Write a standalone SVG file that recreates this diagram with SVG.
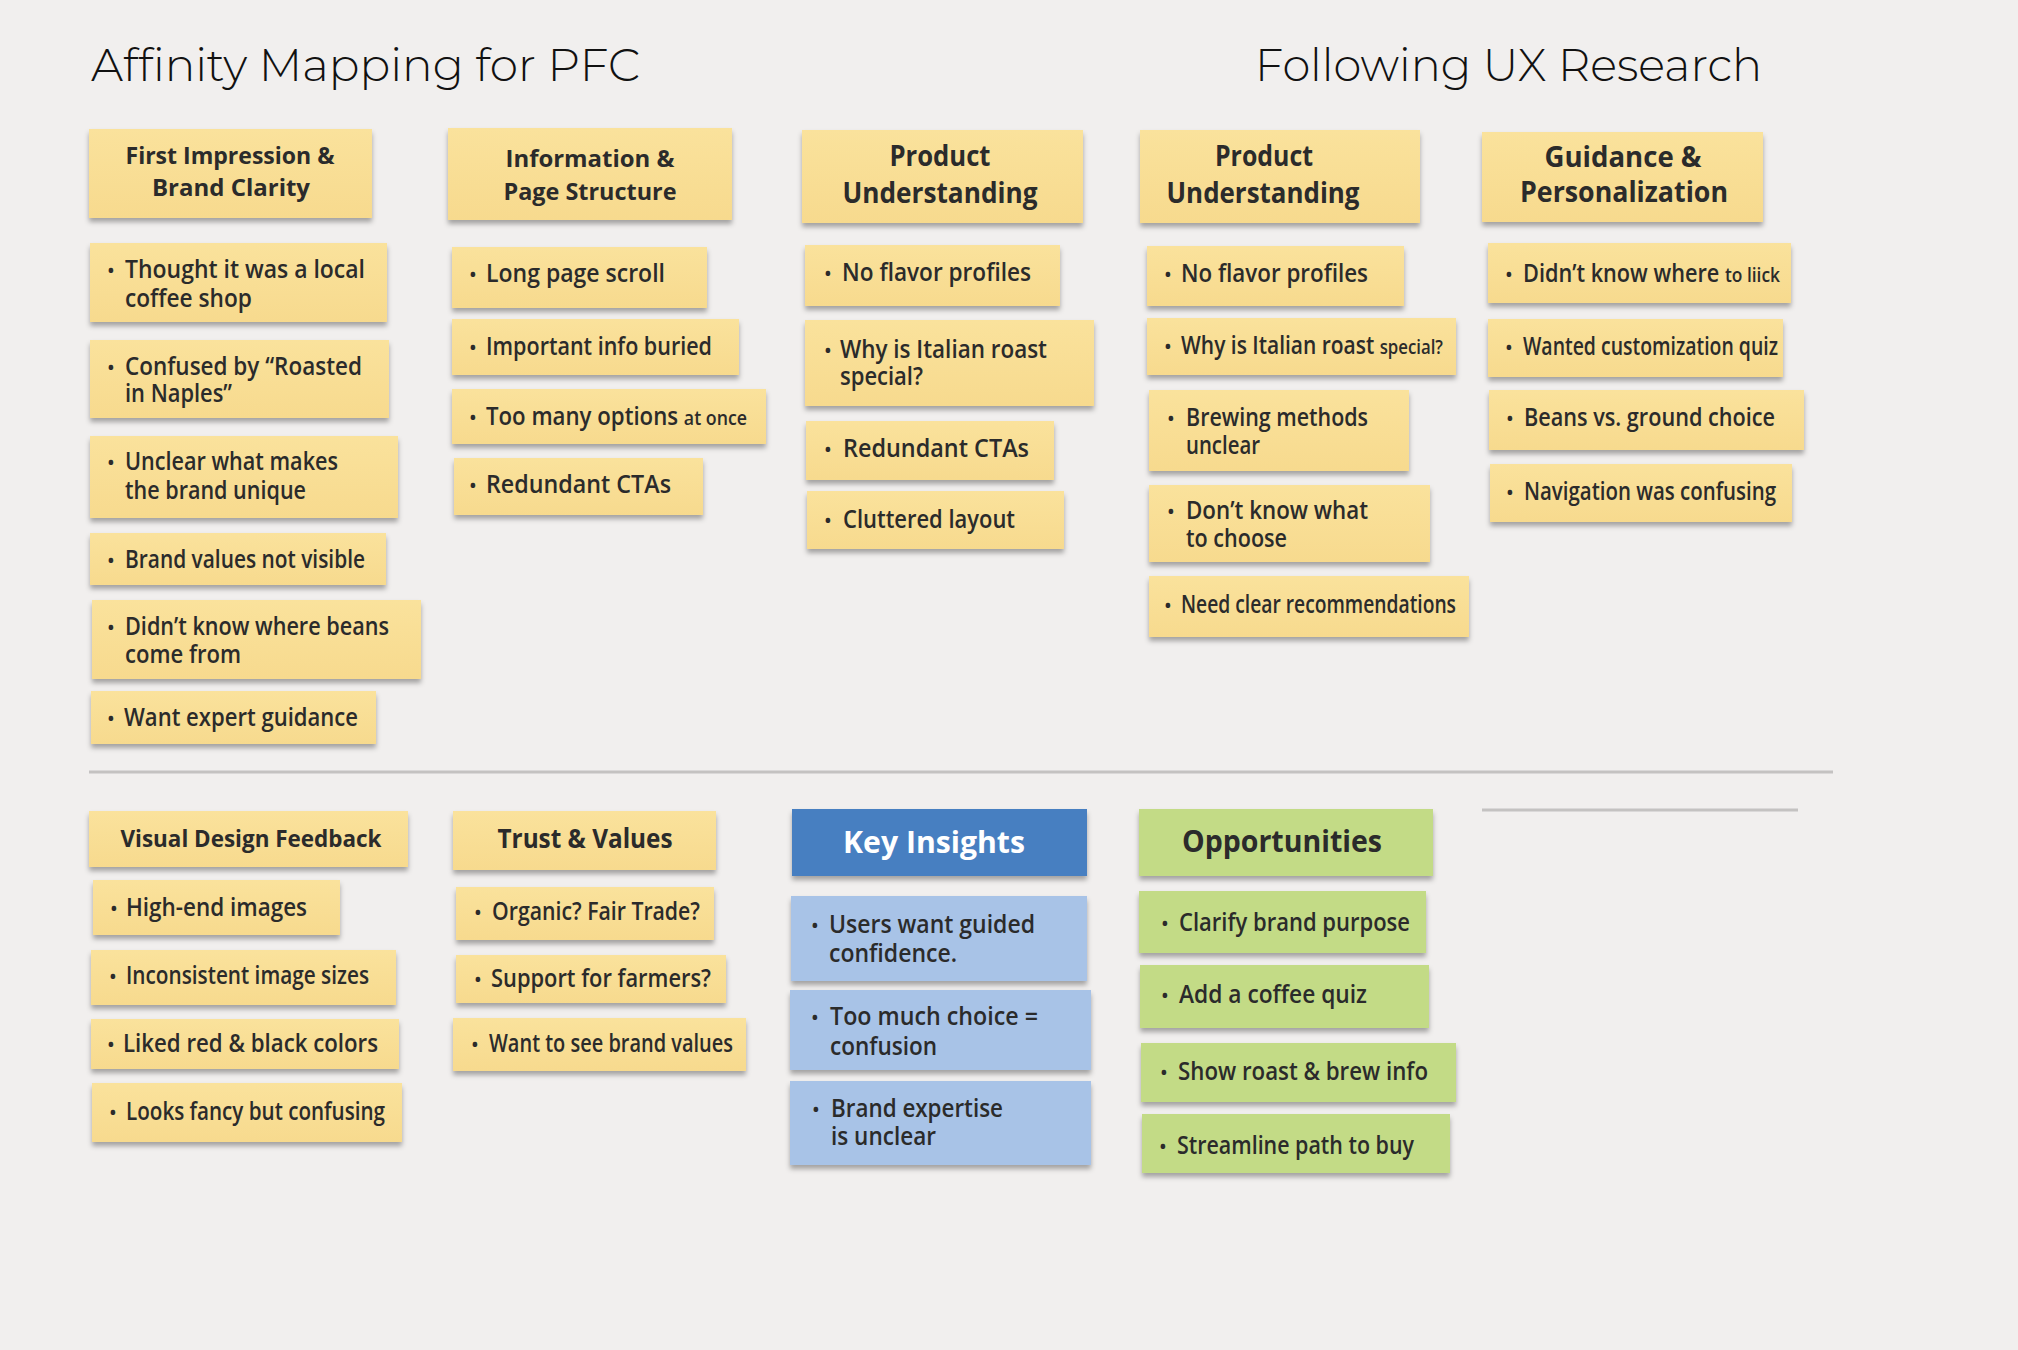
<svg xmlns="http://www.w3.org/2000/svg" width="2018" height="1350" viewBox="0 0 2018 1350">
<defs>
<filter id="sh" x="-5%" y="-20%" width="110%" height="160%"><feDropShadow dx="0" dy="4" stdDeviation="2.5" flood-color="#000" flood-opacity="0.32"/></filter>
<linearGradient id="yg" x1="0" y1="0" x2="0" y2="1"><stop offset="0" stop-color="#fae29c"/><stop offset="1" stop-color="#f7da8e"/></linearGradient>
</defs>
<style>
.y{fill:url(#yg)}
.b{fill:#a8c3e7}
.bh{fill:#477fc1}
.g{fill:#c3db86}
.n{filter:url(#sh)}
text{font-family:"Open Sans","Liberation Sans",sans-serif;fill:#2b2b2b}
.t{font-size:25px;font-weight:600}
.s{font-size:20px;font-weight:600}
.h{font-size:24px;font-weight:700;text-anchor:middle}
.hl{font-size:28px;font-weight:700;text-anchor:middle}
.hx{font-size:31px;font-weight:700;text-anchor:middle}
.bu{font-size:22px;text-anchor:middle}
.title{font-family:Montserrat,Inter,"Open Sans",sans-serif;font-size:46px;font-weight:300;fill:#111}
.div{stroke:#c4c2c1;stroke-width:3;fill:none}
</style>
<rect width="2018" height="1350" fill="#f1efee"/>

<g id="titles">
<text class="title" x="91" y="81" textLength="549" lengthAdjust="spacingAndGlyphs">Affinity Mapping for PFC</text>
<text class="title" x="1255" y="81" textLength="507" lengthAdjust="spacingAndGlyphs">Following UX Research</text>
</g>

<g id="connectors">
<line class="div" x1="89" y1="772" x2="1833" y2="772"/>
<line class="div" x1="1482" y1="810" x2="1798" y2="810"/>
</g>

<!-- Column 1 top -->
<g id="h-first-impression">
<rect class="y n" x="89" y="129" width="283" height="89"/>
<text class="h"><tspan x="230" y="164" textLength="209" lengthAdjust="spacingAndGlyphs">First Impression &amp;</tspan><tspan x="231" y="196" textLength="158" lengthAdjust="spacingAndGlyphs">Brand Clarity</tspan></text>
</g>
<g id="n-local-coffee">
<rect class="y n" x="90" y="243" width="297" height="79"/>
<text class="bu" x="111" y="278">•</text>
<text class="t"><tspan x="125" y="278" textLength="240" lengthAdjust="spacingAndGlyphs">Thought it was a local</tspan><tspan x="125" y="307" textLength="127" lengthAdjust="spacingAndGlyphs">coffee shop</tspan></text>
</g>
<g id="n-roasted-naples">
<rect class="y n" x="90" y="340" width="299" height="78"/>
<text class="bu" x="111" y="375">•</text>
<text class="t"><tspan x="125" y="375" textLength="237" lengthAdjust="spacingAndGlyphs">Confused by “Roasted</tspan><tspan x="125" y="402" textLength="107" lengthAdjust="spacingAndGlyphs">in Naples”</tspan></text>
</g>
<g id="n-unclear-unique">
<rect class="y n" x="90" y="436" width="308" height="82"/>
<text class="bu" x="111" y="470">•</text>
<text class="t"><tspan x="125" y="470" textLength="213" lengthAdjust="spacingAndGlyphs">Unclear what makes</tspan><tspan x="125" y="499" textLength="181" lengthAdjust="spacingAndGlyphs">the brand unique</tspan></text>
</g>
<g id="n-brand-values">
<rect class="y n" x="90" y="533" width="296" height="52"/>
<text class="bu" x="111" y="568">•</text>
<text class="t" x="125" y="568" textLength="240" lengthAdjust="spacingAndGlyphs">Brand values not visible</text>
</g>
<g id="n-beans-from">
<rect class="y n" x="92" y="600" width="329" height="79"/>
<text class="bu" x="111" y="635">•</text>
<text class="t"><tspan x="125" y="635" textLength="264" lengthAdjust="spacingAndGlyphs">Didn’t know where beans</tspan><tspan x="125" y="663" textLength="116" lengthAdjust="spacingAndGlyphs">come from</tspan></text>
</g>
<g id="n-expert-guidance">
<rect class="y n" x="91" y="691" width="285" height="53"/>
<text class="bu" x="111" y="726">•</text>
<text class="t" x="124" y="726" textLength="234" lengthAdjust="spacingAndGlyphs">Want expert guidance</text>
</g>

<!-- Column 2 top -->
<g id="h-information">
<rect class="y n" x="448" y="128" width="284" height="92"/>
<text class="h"><tspan x="590" y="167" textLength="169" lengthAdjust="spacingAndGlyphs">Information &amp;</tspan><tspan x="590" y="200" textLength="173" lengthAdjust="spacingAndGlyphs">Page Structure</tspan></text>
</g>
<g id="n-long-scroll">
<rect class="y n" x="452" y="247" width="255" height="61"/>
<text class="bu" x="473" y="282">•</text>
<text class="t" x="486" y="282" textLength="179" lengthAdjust="spacingAndGlyphs">Long page scroll</text>
</g>
<g id="n-info-buried">
<rect class="y n" x="452" y="319" width="287" height="56"/>
<text class="bu" x="473" y="355">•</text>
<text class="t" x="486" y="355" textLength="226" lengthAdjust="spacingAndGlyphs">Important info buried</text>
</g>
<g id="n-too-many">
<rect class="y n" x="452" y="389" width="314" height="55"/>
<text class="bu" x="473" y="425">•</text>
<text class="t" x="486" y="425" textLength="261" lengthAdjust="spacingAndGlyphs">Too many options <tspan class="s">at once</tspan></text>
</g>
<g id="n-redundant-1">
<rect class="y n" x="454" y="458" width="249" height="57"/>
<text class="bu" x="473" y="493">•</text>
<text class="t" x="486" y="493" textLength="185" lengthAdjust="spacingAndGlyphs">Redundant CTAs</text>
</g>

<!-- Column 3 top -->
<g id="h-product-1">
<rect class="y n" x="802" y="130" width="281" height="93"/>
<text class="hl"><tspan x="940" y="166" textLength="101" lengthAdjust="spacingAndGlyphs">Product</tspan><tspan x="940" y="203" textLength="195" lengthAdjust="spacingAndGlyphs">Understanding</tspan></text>
</g>
<g id="n-flavor-1">
<rect class="y n" x="805" y="245" width="255" height="61"/>
<text class="bu" x="828" y="281">•</text>
<text class="t" x="842" y="281" textLength="189" lengthAdjust="spacingAndGlyphs">No flavor profiles</text>
</g>
<g id="n-italian-1">
<rect class="y n" x="805" y="320" width="289" height="86"/>
<text class="bu" x="828" y="358">•</text>
<text class="t"><tspan x="840" y="358" textLength="207" lengthAdjust="spacingAndGlyphs">Why is Italian roast</tspan><tspan x="840" y="385" textLength="83" lengthAdjust="spacingAndGlyphs">special?</tspan></text>
</g>
<g id="n-redundant-2">
<rect class="y n" x="806" y="421" width="248" height="59"/>
<text class="bu" x="828" y="457">•</text>
<text class="t" x="843" y="457" textLength="186" lengthAdjust="spacingAndGlyphs">Redundant CTAs</text>
</g>
<g id="n-cluttered">
<rect class="y n" x="807" y="491" width="257" height="58"/>
<text class="bu" x="828" y="528">•</text>
<text class="t" x="843" y="528" textLength="172" lengthAdjust="spacingAndGlyphs">Cluttered layout</text>
</g>

<!-- Column 4 top -->
<g id="h-product-2">
<rect class="y n" x="1140" y="130" width="280" height="93"/>
<text class="hl"><tspan x="1264" y="166" textLength="98" lengthAdjust="spacingAndGlyphs">Product</tspan><tspan x="1263" y="203" textLength="193" lengthAdjust="spacingAndGlyphs">Understanding</tspan></text>
</g>
<g id="n-flavor-2">
<rect class="y n" x="1147" y="246" width="257" height="60"/>
<text class="bu" x="1168" y="282">•</text>
<text class="t" x="1181" y="282" textLength="187" lengthAdjust="spacingAndGlyphs">No flavor profiles</text>
</g>
<g id="n-italian-2">
<rect class="y n" x="1147" y="318" width="309" height="57"/>
<text class="bu" x="1168" y="354">•</text>
<text class="t" x="1181" y="354" textLength="262" lengthAdjust="spacingAndGlyphs">Why is Italian roast <tspan class="s">special?</tspan></text>
</g>
<g id="n-brewing">
<rect class="y n" x="1149" y="390" width="260" height="81"/>
<text class="bu" x="1171" y="426">•</text>
<text class="t"><tspan x="1186" y="426" textLength="182" lengthAdjust="spacingAndGlyphs">Brewing methods</tspan><tspan x="1186" y="454" textLength="74" lengthAdjust="spacingAndGlyphs">unclear</tspan></text>
</g>
<g id="n-dont-know">
<rect class="y n" x="1149" y="485" width="281" height="77"/>
<text class="bu" x="1171" y="519">•</text>
<text class="t"><tspan x="1186" y="519" textLength="182" lengthAdjust="spacingAndGlyphs">Don’t know what</tspan><tspan x="1186" y="547" textLength="101" lengthAdjust="spacingAndGlyphs">to choose</tspan></text>
</g>
<g id="n-recommendations">
<rect class="y n" x="1149" y="576" width="320" height="61"/>
<text class="bu" x="1168" y="613">•</text>
<text class="t" x="1181" y="613" textLength="275" lengthAdjust="spacingAndGlyphs">Need clear recommendations</text>
</g>

<!-- Column 5 top -->
<g id="h-guidance">
<rect class="y n" x="1482" y="132" width="281" height="90"/>
<text class="hl"><tspan x="1623" y="167" textLength="157" lengthAdjust="spacingAndGlyphs">Guidance &amp;</tspan><tspan x="1624" y="202" textLength="208" lengthAdjust="spacingAndGlyphs">Personalization</tspan></text>
</g>
<g id="n-click">
<rect class="y n" x="1488" y="243" width="303" height="60"/>
<text class="bu" x="1509" y="282">•</text>
<text class="t" x="1523" y="282" textLength="257" lengthAdjust="spacingAndGlyphs">Didn’t know where <tspan class="s">to liick</tspan></text>
</g>
<g id="n-quiz">
<rect class="y n" x="1488" y="319" width="295" height="58"/>
<text class="bu" x="1509" y="355">•</text>
<text class="t" x="1523" y="355" textLength="255" lengthAdjust="spacingAndGlyphs">Wanted customization quiz</text>
</g>
<g id="n-beans-ground">
<rect class="y n" x="1489" y="390" width="315" height="60"/>
<text class="bu" x="1510" y="426">•</text>
<text class="t" x="1524" y="426" textLength="251" lengthAdjust="spacingAndGlyphs">Beans vs. ground choice</text>
</g>
<g id="n-navigation">
<rect class="y n" x="1490" y="464" width="302" height="58"/>
<text class="bu" x="1510" y="500">•</text>
<text class="t" x="1524" y="500" textLength="252" lengthAdjust="spacingAndGlyphs">Navigation was confusing</text>
</g>

<!-- Bottom column 1 -->
<g id="h-visual">
<rect class="y n" x="89" y="811" width="319" height="56"/>
<text class="h" x="251" y="847" textLength="261" lengthAdjust="spacingAndGlyphs">Visual Design Feedback</text>
</g>
<g id="n-high-end">
<rect class="y n" x="93" y="880" width="247" height="55"/>
<text class="bu" x="114" y="916">•</text>
<text class="t" x="126" y="916" textLength="181" lengthAdjust="spacingAndGlyphs">High-end images</text>
</g>
<g id="n-image-sizes">
<rect class="y n" x="91" y="950" width="305" height="55"/>
<text class="bu" x="113" y="984">•</text>
<text class="t" x="126" y="984" textLength="243" lengthAdjust="spacingAndGlyphs">Inconsistent image sizes</text>
</g>
<g id="n-red-black">
<rect class="y n" x="91" y="1019" width="308" height="50"/>
<text class="bu" x="111" y="1052">•</text>
<text class="t" x="123" y="1052" textLength="255" lengthAdjust="spacingAndGlyphs">Liked red &amp; black colors</text>
</g>
<g id="n-fancy">
<rect class="y n" x="92" y="1083" width="310" height="59"/>
<text class="bu" x="113" y="1120">•</text>
<text class="t" x="126" y="1120" textLength="259" lengthAdjust="spacingAndGlyphs">Looks fancy but confusing</text>
</g>

<!-- Bottom column 2 -->
<g id="h-trust">
<rect class="y n" x="453" y="811" width="263" height="59"/>
<text class="h" x="585" y="848" style="font-size:26px" textLength="175" lengthAdjust="spacingAndGlyphs">Trust &amp; Values</text>
</g>
<g id="n-organic">
<rect class="y n" x="456" y="887" width="258" height="53"/>
<text class="bu" x="478" y="920">•</text>
<text class="t" x="492" y="920" textLength="208" lengthAdjust="spacingAndGlyphs">Organic? Fair Trade?</text>
</g>
<g id="n-farmers">
<rect class="y n" x="456" y="955" width="270" height="48"/>
<text class="bu" x="478" y="987">•</text>
<text class="t" x="491" y="987" textLength="220" lengthAdjust="spacingAndGlyphs">Support for farmers?</text>
</g>
<g id="n-see-values">
<rect class="y n" x="453" y="1018" width="293" height="53"/>
<text class="bu" x="475" y="1052">•</text>
<text class="t" x="489" y="1052" textLength="244" lengthAdjust="spacingAndGlyphs">Want to see brand values</text>
</g>

<!-- Key insights -->
<g id="h-key-insights">
<rect class="bh n" x="792" y="809" width="295" height="67"/>
<text class="hx" x="934" y="853" style="fill:#ffffff" textLength="182" lengthAdjust="spacingAndGlyphs">Key Insights</text>
</g>
<g id="n-guided">
<rect class="b n" x="791" y="896" width="296" height="85"/>
<text class="bu" x="815" y="933">•</text>
<text class="t"><tspan x="829" y="933" textLength="206" lengthAdjust="spacingAndGlyphs">Users want guided</tspan><tspan x="829" y="962" textLength="128" lengthAdjust="spacingAndGlyphs">confidence.</tspan></text>
</g>
<g id="n-too-much-choice">
<rect class="b n" x="790" y="990" width="301" height="80"/>
<text class="bu" x="815" y="1025">•</text>
<text class="t"><tspan x="830" y="1025" textLength="208" lengthAdjust="spacingAndGlyphs">Too much choice =</tspan><tspan x="830" y="1055" textLength="107" lengthAdjust="spacingAndGlyphs">confusion</tspan></text>
</g>
<g id="n-expertise">
<rect class="b n" x="790" y="1081" width="301" height="84"/>
<text class="bu" x="816" y="1117">•</text>
<text class="t"><tspan x="831" y="1117" textLength="172" lengthAdjust="spacingAndGlyphs">Brand expertise</tspan><tspan x="831" y="1145" textLength="105" lengthAdjust="spacingAndGlyphs">is unclear</tspan></text>
</g>

<!-- Opportunities -->
<g id="h-opportunities">
<rect class="g n" x="1139" y="809" width="294" height="67"/>
<text class="hx" x="1282" y="852" textLength="200" lengthAdjust="spacingAndGlyphs">Opportunities</text>
</g>
<g id="n-clarify">
<rect class="g n" x="1139" y="891" width="287" height="62"/>
<text class="bu" x="1165" y="931">•</text>
<text class="t" x="1179" y="931" textLength="231" lengthAdjust="spacingAndGlyphs">Clarify brand purpose</text>
</g>
<g id="n-coffee-quiz">
<rect class="g n" x="1140" y="965" width="289" height="63"/>
<text class="bu" x="1165" y="1003">•</text>
<text class="t" x="1179" y="1003" textLength="188" lengthAdjust="spacingAndGlyphs">Add a coffee quiz</text>
</g>
<g id="n-roast-brew">
<rect class="g n" x="1141" y="1043" width="315" height="59"/>
<text class="bu" x="1164" y="1080">•</text>
<text class="t" x="1178" y="1080" textLength="250" lengthAdjust="spacingAndGlyphs">Show roast &amp; brew info</text>
</g>
<g id="n-streamline">
<rect class="g n" x="1142" y="1114" width="308" height="59"/>
<text class="bu" x="1163" y="1154">•</text>
<text class="t" x="1177" y="1154" textLength="237" lengthAdjust="spacingAndGlyphs">Streamline path to buy</text>
</g>
</svg>
